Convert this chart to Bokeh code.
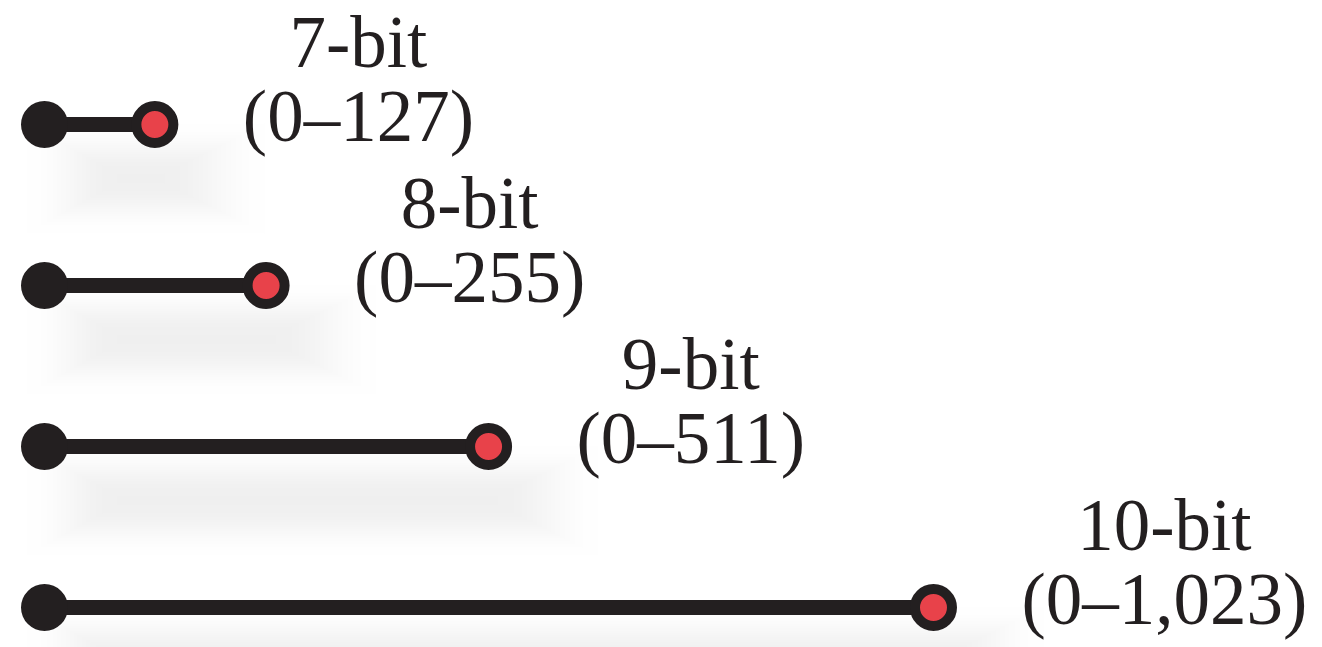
from bokeh.plotting import figure
from bokeh.embed import file_html
from bokeh.resources import INLINE
from bokeh.core.properties import value
import numpy as np

labels = ["7-bit", "8-bit", "9-bit", "10-bit"]
ranges = ["(0\u2013127)", "(0\u2013255)", "(0\u2013511)", "(0\u20131,023)"]
starts = [0, 0, 0, 0]
ends = [127, 255, 511, 1023]

n = len(labels)
rows = np.arange(n)[::-1].astype(float)
texts = [f"{a}\n{b}" for a, b in zip(labels, ranges)]

W, H = 1322, 647
px_per_unit = 0.869
x0 = -44 / px_per_unit
x1 = x0 + W / px_per_unit
ypx = 161.0
y_top = (n - 1) + 124 / ypx
y_bot = y_top - H / ypx

p = figure(width=W, height=H, output_backend="svg", toolbar_location=None,
           x_range=(x0, x1), y_range=(y_bot, y_top), min_border=0)
p.axis.visible = False
p.grid.visible = False
p.outline_line_color = None
p.background_fill_color = "white"
p.border_fill_color = "white"

ink = "#231f20"
red = "#e8424a"

# soft blurred shadow under each bar, built from a few faint layers
st = np.array(starts, float)
en = np.array(ends, float)
layers = 16
for k in range(layers):
    t = k / (layers - 1)
    u = 0.5 - np.sin(np.arcsin(1 - 2 * t) / 3)   # smoothstep inverse
    half_h = 55 - 50 * u
    left = st + (-18 + 90 * u) / px_per_unit
    right = en + (110 - 100 * u) / px_per_unit
    p.hbar(y=rows - 54 / ypx, left=left, right=right, height=2 * half_h / ypx,
           fill_color="#c6cad4", fill_alpha=0.01, line_color=None)

p.segment(x0=starts, y0=rows, x1=ends, y1=rows, line_color=ink, line_width=15)
p.scatter(x=starts, y=rows, size=47, fill_color=ink, line_color=None)
p.scatter(x=ends, y=rows, size=37, fill_color=red, line_color=ink, line_width=10)

p.text(x=ends, y=rows, text=texts, text_font=value("Liberation Serif"),
       text_font_size="73px", text_align="center", anchor="bottom_left",
       text_line_height=0.915, x_offset=88, y_offset=33, text_color=ink)

open("out.html", "w").write(file_html(p, INLINE))
